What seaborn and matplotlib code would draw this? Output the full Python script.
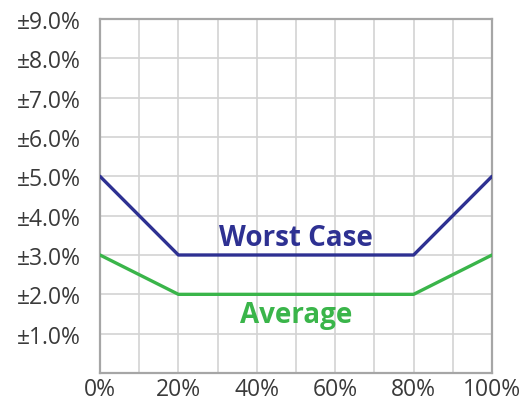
import matplotlib
matplotlib.use("Agg")
import matplotlib.pyplot as plt
import seaborn as sns
import pandas as pd
from matplotlib.ticker import MultipleLocator, FixedLocator

load_pct = [0, 20, 80, 100]
worst_case = [5.0, 3.0, 3.0, 5.0]
average = [3.0, 2.0, 2.0, 3.0]
x_ticks = [0, 20, 40, 60, 80, 100]
x_labels = ["0%", "20%", "40%", "60%", "80%", "100%"]
y_ticks = [1, 2, 3, 4, 5, 6, 7, 8, 9]
y_labels = ["±1.0%", "±2.0%", "±3.0%", "±4.0%", "±5.0%", "±6.0%", "±7.0%", "±8.0%", "±9.0%"]

sns.set_theme(style="white")
plt.rcParams['font.family'] = ['Open Sans', 'DejaVu Sans']

df = pd.DataFrame({
    "load": load_pct * 2,
    "err": worst_case + average,
    "series": ["Worst Case"] * 4 + ["Average"] * 4,
})

blue = "#2E3192"
green = "#3AB54A"

fig = plt.figure(figsize=(5.24, 4.06), dpi=100)
ax = fig.add_axes([100/524, 1 - 374/406, 392/524, 354/406])
sns.lineplot(data=df, x="load", y="err", hue="series",
             palette={"Worst Case": blue, "Average": green},
             linewidth=2.4, legend=False, ax=ax, zorder=3)

ax.set_xlim(0, 100)
ax.set_ylim(0, 9)
ax.xaxis.set_major_locator(FixedLocator(x_ticks))
ax.set_xticklabels(x_labels)
ax.xaxis.set_minor_locator(MultipleLocator(10))
ax.yaxis.set_major_locator(FixedLocator(y_ticks))
ax.set_yticklabels(y_labels)
ax.grid(True, which="both", color="#D3D3D3", linewidth=1.2)
ax.tick_params(axis="both", which="both", length=0, labelsize=16.5, labelcolor="#3A3A3A")
ax.tick_params(axis="y", pad=14)
ax.tick_params(axis="x", pad=3)
ax.set_xlabel("")
ax.set_ylabel("")
for s in ax.spines.values():
    s.set_color("#A6A6A6")
    s.set_linewidth(1.6)

ax.text(50, 3.45, "Worst Case", color=blue, fontsize=20, fontweight="bold",
        ha="center", va="center")
ax.text(50, 1.48, "Average", color=green, fontsize=20, fontweight="bold",
        ha="center", va="center")

fig.savefig("out.png", dpi=100)
